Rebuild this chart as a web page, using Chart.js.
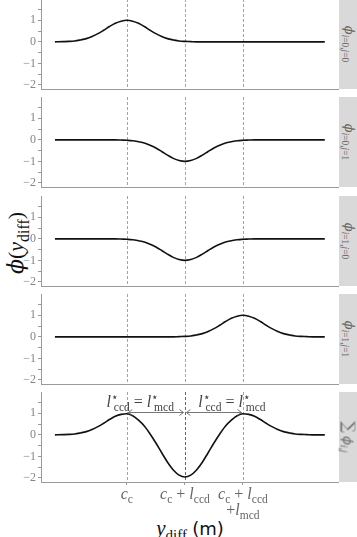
<!DOCTYPE html>
<html>
<head>
<meta charset="utf-8">
<script src="https://cdn.jsdelivr.net/npm/chart.js@4.4.1/dist/chart.umd.min.js"></script>
<style>
  html, body { margin: 0; padding: 0; background: #fff; }
  body { width: 357px; height: 537px; position: relative; overflow: hidden; font-family: "Liberation Serif", "DejaVu Serif", serif; }
  .panel { position: absolute; left: 0; }
  .phi { font-family: "DejaVu Serif", serif; }
  .strip { position: absolute; left: 339px; width: 20px; background: #d9d9d9; }
  .strip span.t { position: absolute; left: 50%; top: 50%; transform: translate(-50%, -50%) rotate(90deg); white-space: nowrap; color: #666; font-size: 13px; }
  .lab { position: absolute; white-space: nowrap; color: #666; transform: translateX(-50%); font-size: 16px; line-height: 16px; text-align: center; }
  sub { font-size: 72%; vertical-align: -0.35em; line-height: 0; font-style: normal; }
  sup { font-size: 72%; vertical-align: 0.5em; line-height: 0; }
  #ytitle { position: absolute; left: 16px; top: 243px; transform: translate(-50%, -50%) rotate(-90deg); white-space: nowrap; font-size: 22px; color: #111; }
  #xtitle { position: absolute; left: 190px; top: 528px; transform: translate(-50%, -50%); white-space: nowrap; font-size: 21px; color: #111; }
</style>
</head>
<body>
<div id="ytitle"><i class="phi">ϕ</i>(<i>y</i><sub>diff</sub>)</div>
<div id="xtitle"><i>y</i><sub>diff</sub> <span style="font-family:'DejaVu Sans',sans-serif;font-size:18px">(m)</span></div>

<script>
// ---- data ----
// x positions of the samples (c_c = 0, c_c + l_ccd = 1, c_c + l_ccd + l_mcd = 2)
const xs = [-1.24, -1.1, -1.0, -0.9, -0.8, -0.7, -0.6, -0.5, -0.4, -0.3, -0.2, -0.1,
  0, 0.1, 0.2, 0.3, 0.4, 0.5, 0.6, 0.7, 0.8, 0.9, 1.0, 1.1, 1.2, 1.3, 1.4, 1.5, 1.6,
  1.7, 1.8, 1.9, 2.0, 2.1, 2.2, 2.3, 2.4, 2.5, 2.6, 2.7, 2.8, 2.9, 3.0, 3.1, 3.2, 3.3, 3.41];

const phi00 = [0, 0.01, 0.02, 0.04, 0.09, 0.15, 0.25, 0.38, 0.54, 0.71, 0.86, 0.96,
  1, 0.96, 0.86, 0.71, 0.54, 0.38, 0.25, 0.15, 0.09, 0.04, 0.02, 0.01,
  0, 0, 0, 0, 0, 0, 0, 0, 0, 0, 0, 0, 0, 0, 0, 0, 0, 0, 0, 0, 0, 0, 0];

const phi01 = [0, 0, 0, 0, 0, 0, 0, 0, 0, 0, 0, -0.01,
  -0.02, -0.04, -0.09, -0.15, -0.25, -0.38, -0.54, -0.71, -0.86, -0.96, -1, -0.96,
  -0.86, -0.71, -0.54, -0.38, -0.25, -0.15, -0.09, -0.04, -0.02, -0.01,
  0, 0, 0, 0, 0, 0, 0, 0, 0, 0, 0, 0, 0];

const phi10 = [0, 0, 0, 0, 0, 0, 0, 0, 0, 0, 0, -0.01,
  -0.02, -0.04, -0.09, -0.15, -0.25, -0.38, -0.54, -0.71, -0.86, -0.96, -1, -0.96,
  -0.86, -0.71, -0.54, -0.38, -0.25, -0.15, -0.09, -0.04, -0.02, -0.01,
  0, 0, 0, 0, 0, 0, 0, 0, 0, 0, 0, 0, 0];

const phi11 = [0, 0, 0, 0, 0, 0, 0, 0, 0, 0, 0, 0, 0, 0, 0, 0, 0, 0, 0, 0, 0,
  0.01, 0.02, 0.04, 0.09, 0.15, 0.25, 0.38, 0.54, 0.71, 0.86, 0.96, 1, 0.96,
  0.86, 0.71, 0.54, 0.38, 0.25, 0.15, 0.09, 0.04, 0.02, 0.01, 0, 0, 0];

const phiSum = [0, 0.01, 0.02, 0.04, 0.09, 0.15, 0.25, 0.38, 0.54, 0.71, 0.86, 0.95,
  0.98, 0.89, 0.68, 0.41, 0.04, -0.38, -0.83, -1.27, -1.63, -1.87, -1.96, -1.87,
  -1.63, -1.27, -0.83, -0.38, 0.04, 0.41, 0.68, 0.89, 0.98, 0.95,
  0.86, 0.71, 0.54, 0.38, 0.25, 0.15, 0.09, 0.04, 0.02, 0.01, 0, 0, 0];

const cPositions = [0, 1, 2];
const yTicks = [-2, -1.5, -1, -0.5, 0, 0.5, 1, 1.5];

const panels = [
  { values: phi00, strip: '<i class="phi">ϕ</i><sub><i>i</i>=0,<i>j</i>=0</sub>' },
  { values: phi01, strip: '<i class="phi">ϕ</i><sub><i>i</i>=0,<i>j</i>=1</sub>' },
  { values: phi10, strip: '<i class="phi">ϕ</i><sub><i>i</i>=1,<i>j</i>=0</sub>' },
  { values: phi11, strip: '<i class="phi">ϕ</i><sub><i>i</i>=1,<i>j</i>=1</sub>' },
  { values: phiSum, strip: '<span style="font-family:\'DejaVu Serif\';font-size:16px">∑</span> <i class="phi">ϕ</i><sub><i>i</i>,<i>j</i></sub>' }
];

// ---- layout ----
const panelTop0 = -1, panelStep = 98.25, plotH = 90, plotW = 339, axisW = 41;
const gray = '#9a9a9a';

// dashed verticals at c positions
const vlines = {
  id: 'vlines',
  beforeDatasetsDraw(chart, args, opts) {
    const { ctx, chartArea: { top, bottom }, scales: { x } } = chart;
    ctx.save();
    ctx.setLineDash([3, 2]);
    ctx.lineWidth = 0.9;
    cPositions.forEach((c, i) => {
      const px = Math.round(x.getPixelForValue(c)) + 0.5;
      ctx.strokeStyle = (opts.darkMiddle && i === 1) ? '#555' : gray;
      ctx.beginPath();
      ctx.moveTo(px, top);
      ctx.lineTo(px, bottom);
      ctx.stroke();
    });
    ctx.restore();
  }
};

// double arrows l*ccd = l*mcd (last panel)
const arrows = {
  id: 'arrows',
  afterDatasetsDraw(chart, args, opts) {
    if (!opts.show) return;
    const { ctx, scales: { x, y } } = chart;
    const py = Math.round(y.getPixelForValue(1.05)) + 0.5;
    ctx.save();
    ctx.strokeStyle = '#666';
    ctx.lineWidth = 0.9;
    for (let i = 0; i < cPositions.length - 1; i++) {
      const a = x.getPixelForValue(cPositions[i]) + 1.5;
      const b = x.getPixelForValue(cPositions[i + 1]) - 1.5;
      ctx.beginPath();
      ctx.moveTo(a, py); ctx.lineTo(b, py);
      ctx.moveTo(a + 4, py - 3); ctx.lineTo(a, py); ctx.lineTo(a + 4, py + 3);
      ctx.moveTo(b - 4, py - 3); ctx.lineTo(b, py); ctx.lineTo(b - 4, py + 3);
      ctx.stroke();
    }
    ctx.restore();
  }
};

const charts = [];
panels.forEach((p, k) => {
  const last = k === panels.length - 1;
  const top = panelTop0 + panelStep * k;
  const canvasH = plotH + (last ? 4 : 1);

  const cv = document.createElement('canvas');
  cv.className = 'panel';
  cv.width = plotW; cv.height = canvasH;
  cv.style.top = top + 'px';
  cv.style.width = plotW + 'px'; cv.style.height = canvasH + 'px';
  document.body.appendChild(cv);

  const strip = document.createElement('div');
  strip.className = 'strip';
  strip.style.top = top + 'px';
  strip.style.height = plotH + 'px';
  strip.innerHTML = '<span class="t">' + p.strip + '</span>';
  document.body.appendChild(strip);

  const chart = new Chart(cv, {
    type: 'line',
    data: {
      datasets: [{
        data: xs.map((x, i) => ({ x: x, y: p.values[i] })),
        borderColor: '#111',
        borderWidth: 1.6,
        pointRadius: 0,
        cubicInterpolationMode: 'monotone',
        fill: false
      }]
    },
    options: {
      responsive: false,
      animation: false,
      devicePixelRatio: 1,
      layout: { padding: 0 },
      plugins: {
        legend: { display: false },
        tooltip: { enabled: false },
        vlines: { darkMiddle: last },
        arrows: { show: last }
      },
      scales: {
        x: {
          type: 'linear',
          min: -1.48, max: 3.655,
          afterBuildTicks: s => { s.ticks = cPositions.map(v => ({ value: v })); },
          afterFit: s => { s.height = last ? 4 : 1; s.paddingLeft = 0; s.paddingRight = 0; },
          ticks: { display: false },
          grid: { display: last, drawOnChartArea: false, drawTicks: true, tickLength: 3, color: gray },
          border: { display: true, color: gray, width: 1 }
        },
        y: {
          type: 'linear',
          min: -2.19, max: 1.99,
          afterBuildTicks: s => { s.ticks = yTicks.map(v => ({ value: v })); },
          afterFit: s => { s.width = axisW; s.paddingTop = 0; s.paddingBottom = 0; },
          ticks: {
            autoSkip: false,
            padding: 2,
            color: '#858585',
            font: { family: 'Liberation Serif', size: 12 },
            callback: v => Number.isInteger(v) ? (v < 0 ? '\u2212' + Math.abs(v) : String(v)) : ''
          },
          grid: { display: true, drawOnChartArea: false, drawTicks: true, tickLength: 3, color: gray },
          border: { display: true, color: gray, width: 1 }
        }
      }
    },
    plugins: [vlines, arrows]
  });
  charts.push({ chart: chart, top: top });
});

// ---- math labels placed with the last panel's scales ----
const lastPanel = charts[charts.length - 1];
const sx = lastPanel.chart.scales.x, sy = lastPanel.chart.scales.y;
const xTickLabels = [
  '<i>c</i><sub>c</sub>',
  '<i>c</i><sub>c</sub> + <i>l</i><sub>ccd</sub>',
  '<i>c</i><sub>c</sub> + <i>l</i><sub>ccd</sub><br>+<i>l</i><sub>mcd</sub>'
];
cPositions.forEach((c, i) => {
  const d = document.createElement('div');
  d.className = 'lab';
  d.innerHTML = xTickLabels[i];
  d.style.left = sx.getPixelForValue(c) + 'px';
  d.style.top = (lastPanel.top + sy.bottom + 4) + 'px';
  document.body.appendChild(d);
});

const arrowLabelAt = [0.23, 1.81];
arrowLabelAt.forEach(v => {
  const d = document.createElement('div');
  d.className = 'lab';
  d.style.color = '#444';
  d.style.fontSize = '16px';
  d.innerHTML = '<i>l</i><sup>⋆</sup><sub style="margin-left:-0.45em">ccd</sub> = <i>l</i><sup>⋆</sup><sub style="margin-left:-0.45em">mcd</sub>';
  d.style.left = sx.getPixelForValue(v) + 'px';
  d.style.top = (lastPanel.top + sy.getPixelForValue(1.05) - 18) + 'px';
  document.body.appendChild(d);
});
</script>
</body>
</html>
